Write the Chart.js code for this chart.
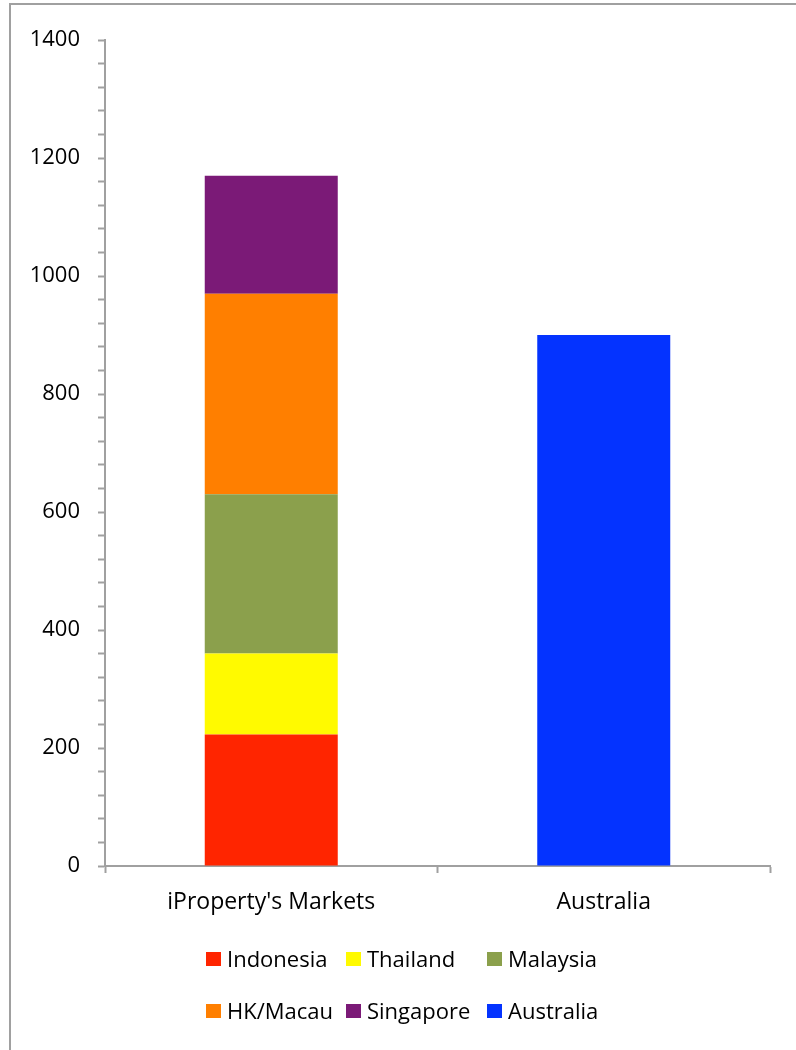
<!DOCTYPE html>
<html>
<head>
<meta charset="utf-8">
<script src="https://cdn.jsdelivr.net/npm/chart.js@4.4.1/dist/chart.umd.min.js"></script>
<style>
  html, body { margin: 0; padding: 0; background: #fff; overflow: hidden; }
  #wrap { position: relative; width: 796px; height: 1050px; }
  #frame { position: absolute; left: 9px; top: 3px; width: 1000px; height: 1100px;
           border: 2px solid #a0a0a0; pointer-events: none; }
  canvas { position: absolute; left: 0; top: 0; }
</style>
</head>
<body>
<div id="wrap">
  <div id="frame"></div>
  <canvas id="chart" width="796" height="1050"></canvas>
</div>
<script>
// categories op de x-as
const categories = ["iProperty's Markets", 'Australia'];

// waarden per markt (gestapeld, van onder naar boven)
const indonesia = [223, null];
const thailand = [137, null];
const malaysia = [270, null];
const hkMacau = [340, null];
const singapore = [200, null];
const australia = [null, 900];

const seriesNames = ['Indonesia', 'Thailand', 'Malaysia', 'HK/Macau', 'Singapore', 'Australia'];
const seriesColors = ['#ff2500', '#fffa00', '#8ba04c', '#ff7f00', '#7b1a77', '#0433ff'];

// y-as: labels om de 200, kleine streepjes om de 40
const yLabels = [0, 200, 400, 600, 800, 1000, 1200, 1400];

window.onload = function () {
    Chart.defaults.font.family = "'Open Sans', sans-serif";
    Chart.defaults.color = '#000';

    const values = [indonesia, thailand, malaysia, hkMacau, singapore, australia];
    const datasets = seriesNames.map((name, i) => ({
        label: name,
        data: values[i],
        backgroundColor: seriesColors[i],
        borderWidth: 0
    }));

    // legende in een raster van 3 kolommen, zoals in Excel
    const gridLegend = {
        id: 'gridLegend',
        afterDraw(chart) {
            const ctx = chart.ctx;
            const cols = [206, 346, 487];
            const rows = [959, 1011];
            ctx.save();
            ctx.font = "22px 'Open Sans', sans-serif";
            ctx.textBaseline = 'middle';
            chart.data.datasets.forEach((ds, i) => {
                const x = cols[i % 3];
                const y = rows[Math.floor(i / 3)];
                ctx.fillStyle = ds.backgroundColor;
                ctx.fillRect(x, y - 7, 15, 14);
                ctx.fillStyle = '#000';
                ctx.fillText(ds.label, x + 21, y + 2);
            });
            ctx.restore();
        }
    };

    const ctx = document.getElementById('chart').getContext('2d');
    new Chart(ctx, {
        type: 'bar',
        data: { labels: categories, datasets: datasets },
        plugins: [gridLegend],
        options: {
            responsive: false,
            animation: false,
            layout: { padding: { top: 40, right: 26, bottom: 124, left: 0 } },
            datasets: {
                bar: { categoryPercentage: 1, barPercentage: 0.4 }
            },
            plugins: {
                legend: { display: false },
                tooltip: { enabled: false }
            },
            scales: {
                x: {
                    stacked: true,
                    afterFit: s => { s.height = 60; },
                    border: { color: '#a0a0a0', width: 2 },
                    grid: {
                        offset: true,
                        drawOnChartArea: false,
                        tickLength: 7,
                        tickColor: '#a0a0a0',
                        tickWidth: 2
                    },
                    ticks: { font: { size: 23 }, padding: 16, maxRotation: 0 }
                },
                y: {
                    stacked: true,
                    min: 0,
                    max: 1400,
                    afterFit: s => { s.width = 105; },
                    border: { color: '#a0a0a0', width: 2 },
                    grid: {
                        drawOnChartArea: false,
                        tickLength: 7,
                        tickColor: '#a0a0a0',
                        tickWidth: 2
                    },
                    ticks: {
                        stepSize: 40,
                        autoSkip: false,
                        font: { size: 22 },
                        padding: 18,
                        callback: v => yLabels.includes(v) ? v : ''
                    }
                }
            }
        }
    });
};
</script>
</body>
</html>
